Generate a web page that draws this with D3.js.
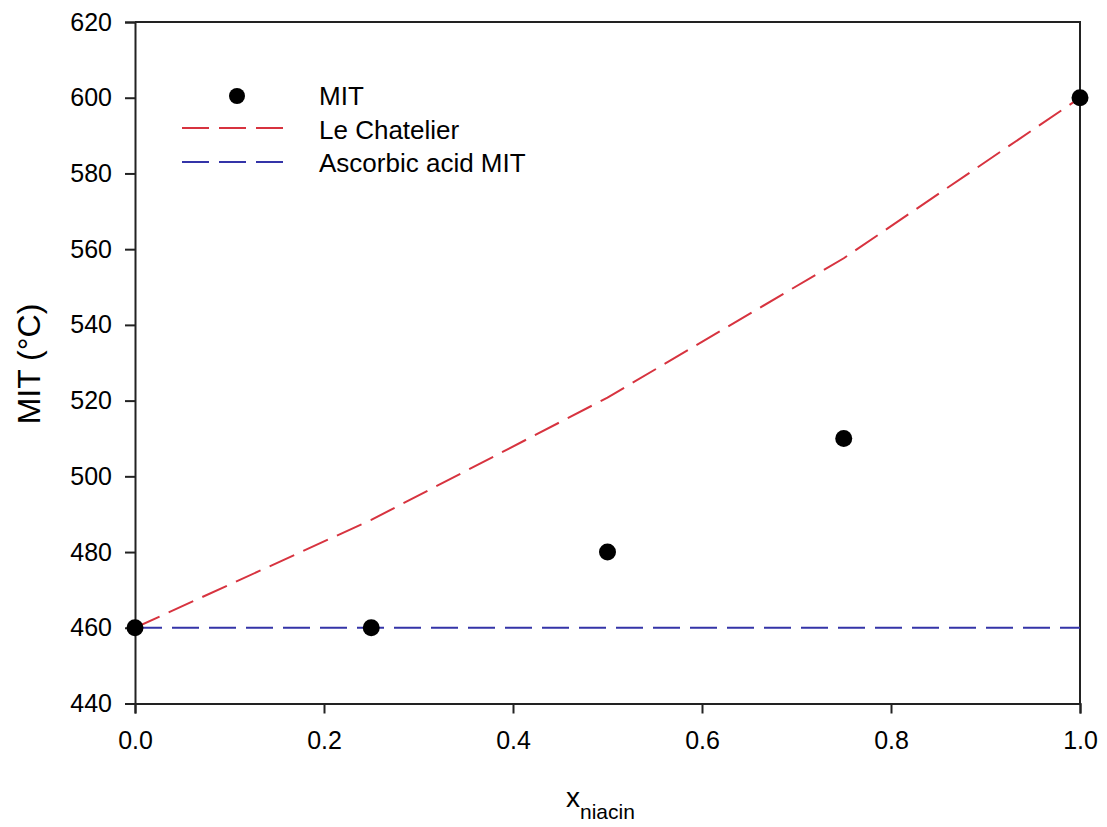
<!DOCTYPE html>
<html>
<head>
<meta charset="utf-8">
<script src="https://cdn.jsdelivr.net/npm/d3@7"></script>
<style>
  html, body { margin: 0; padding: 0; background: #fff; }
  svg { display: block; font-family: "Liberation Sans", Arial, sans-serif; }
</style>
</head>
<body>
<svg id="chart" width="1107" height="827"></svg>
<script>
// ---- data ----
const xFrac = [0, 0.25, 0.5, 0.75, 1.0];
const mitValues = [460, 460, 480, 510, 600];
const leChatelier = [460, 488.5, 520.8, 557.6, 600];
const ascorbicMIT = [460, 460];
const ascorbicX = [0, 1.0];
const xTicks = [0, 0.2, 0.4, 0.6, 0.8, 1.0];
const yTicks = [440, 460, 480, 500, 520, 540, 560, 580, 600, 620];
const legendLabels = ["MIT", "Le Chatelier", "Ascorbic acid MIT"];

const RED = "#d7333f";
const BLUE = "#3434a8";
const FRAME = "#222";

const svg = d3.select("#chart");
const m = { left: 135, right: 1080, top: 22, bottom: 703.5 };

const x = d3.scaleLinear().domain([0, 1]).range([m.left, m.right]);
const y = d3.scaleLinear().domain([440, 620]).range([m.bottom, m.top]);

// frame (top & right)
svg.append("path")
  .attr("d", `M${m.left},${m.top}H${m.right}V${m.bottom}`)
  .attr("fill", "none").attr("stroke", FRAME).attr("stroke-width", 2);

// x axis
const xAxis = svg.append("g")
  .attr("transform", `translate(0,${m.bottom})`)
  .call(d3.axisBottom(x).tickValues(xTicks).tickFormat(d3.format(".1f")).tickSizeOuter(0).tickSize(10).tickPadding(18));
xAxis.select(".domain").attr("stroke", FRAME).attr("stroke-width", 2);
xAxis.selectAll(".tick line").attr("stroke", FRAME).attr("stroke-width", 2);
xAxis.selectAll("text").attr("font-size", 25).attr("fill", "#000")
  .attr("font-family", "Liberation Sans, Arial, sans-serif");

// y axis
const yAxis = svg.append("g")
  .attr("transform", `translate(${m.left},0)`)
  .call(d3.axisLeft(y).tickValues(yTicks).tickFormat(d3.format("d")).tickSizeOuter(0).tickSize(10).tickPadding(13));
yAxis.select(".domain").attr("stroke", FRAME).attr("stroke-width", 2);
yAxis.selectAll(".tick line").attr("stroke", FRAME).attr("stroke-width", 2);
yAxis.selectAll("text").attr("font-size", 25).attr("fill", "#000")
  .attr("font-family", "Liberation Sans, Arial, sans-serif");

// axis titles
svg.append("text")
  .attr("transform", `translate(40,364) rotate(-90)`)
  .attr("text-anchor", "middle")
  .attr("font-size", 32).attr("fill", "#000")
  .text("MIT (°C)");

const xt = svg.append("text")
  .attr("x", 566).attr("y", 807)
  .attr("font-size", 28).attr("fill", "#000");
xt.append("tspan").text("x");
xt.append("tspan").attr("dy", 12).attr("font-size", 21).text("niacin");

// lines
const line = d3.line().x(d => x(d[0])).y(d => y(d[1]));

svg.append("path")
  .datum(ascorbicX.map((v, i) => [v, ascorbicMIT[i]]))
  .attr("d", line)
  .attr("fill", "none").attr("stroke", BLUE).attr("stroke-width", 2)
  .attr("stroke-dasharray", "27,10");

svg.append("path")
  .datum(xFrac.map((v, i) => [v, leChatelier[i]]))
  .attr("d", line)
  .attr("fill", "none").attr("stroke", RED).attr("stroke-width", 2)
  .attr("stroke-dasharray", "27,10");

// points
svg.selectAll("circle.pt")
  .data(xFrac.map((v, i) => [v, mitValues[i]]))
  .join("circle")
  .attr("class", "pt")
  .attr("cx", d => x(d[0])).attr("cy", d => y(d[1]))
  .attr("r", 8.5).attr("fill", "#000");

// legend
const lg = svg.append("g");
lg.append("circle").attr("cx", 237).attr("cy", 96).attr("r", 8).attr("fill", "#000");
lg.append("line").attr("x1", 182).attr("x2", 283).attr("y1", 128).attr("y2", 128)
  .attr("stroke", RED).attr("stroke-width", 2).attr("stroke-dasharray", "27,10");
lg.append("line").attr("x1", 182).attr("x2", 283).attr("y1", 162).attr("y2", 162)
  .attr("stroke", BLUE).attr("stroke-width", 2).attr("stroke-dasharray", "27,10");
const ly = [105, 139, 172];
legendLabels.forEach((t, i) => {
  lg.append("text").attr("x", 319).attr("y", ly[i])
    .attr("font-size", 26).attr("fill", "#000").text(t);
});
</script>
</body>
</html>
